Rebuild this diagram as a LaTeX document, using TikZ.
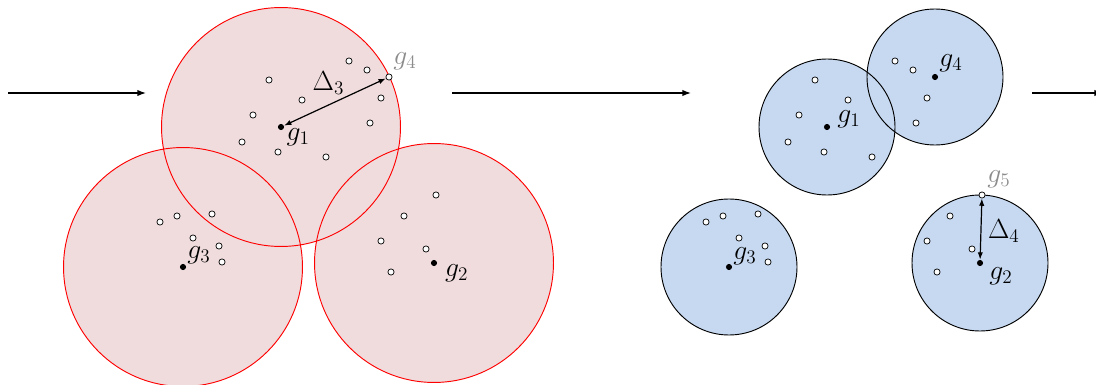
\documentclass[tikz,border=0pt]{standalone}
\usepackage{amsmath}
\usepackage{xcolor}
\usetikzlibrary{arrows.meta,calc,positioning}
\definecolor{ballred}{RGB}{240,220,221}
\definecolor{ballblue}{RGB}{198,217,241}
\newcommand{\samplepts}{349/61,367/70,269/80,302/100,381/98,253/115,370/123,242/142,278/152,326/157,160/222,177/216,212/214,193/238,219/246,222/262,404/216,381/241,426/249,391/272}

\begin{document}
\begin{tikzpicture}[x=0.75pt,y=-0.75pt,>=Latex,
  pt/.style={circle,draw,fill=white,inner sep=0pt,minimum size=4.6pt,line width=0.55pt},
  ctr/.style={circle,fill=black,inner sep=0pt,minimum size=4.6pt},
  lab/.style={inner sep=1pt,font=\huge},
  flow/.style={->,line width=1pt,>={Latex[length=6.5pt,width=4.8pt]}},
  dist/.style={<->,line width=0.9pt,>={Latex[length=5.5pt,width=4pt]}},
  redball/.style={draw=red,line width=0.7pt},
  blueball/.style={draw=black,line width=0.7pt}]
\useasboundingbox (0,0) rectangle (1096,385);
\coordinate (lc1) at (281,127);
\coordinate (lc2) at (434,263);
\coordinate (lc3) at (183,267);
\coordinate (rc1) at (827,127);
\coordinate (rc2) at (980,263);
\coordinate (rc3) at (729,267);
\coordinate (rc4) at (935,77);
\foreach \c in {lc1,lc2,lc3} \fill[ballred] (\c) circle[radius=89.6pt];
\foreach \c in {lc1,lc2,lc3} \draw[redball] (\c) circle[radius=89.6pt];
\foreach \c in {rc1,rc2,rc3,rc4} \fill[ballblue] (\c) circle[radius=51pt];
\foreach \c in {rc1,rc2,rc3,rc4} \draw[blueball] (\c) circle[radius=51pt];
\foreach \x/\y [count=\i] in \samplepts {
  \node[pt] (lp\i) at (\x,\y) {};
  \node[pt] (rp\i) at (\x+546,\y) {};
}
\node[ctr] (lg1) at (lc1) {};
\node[ctr] (lg2) at (lc2) {};
\node[ctr] (lg3) at (lc3) {};
\node[pt] (lg4) at (389,77) {};
\node[pt] (lg5) at (436,195) {};
\node[ctr] (rg1) at (rc1) {};
\node[ctr] (rg2) at (rc2) {};
\node[ctr] (rg3) at (rc3) {};
\node[ctr] (rg4) at (rc4) {};
\node[pt] (rg5) at (982,195) {};
\node[lab,anchor=north west] (lg1l) at ($(lg1)+(4,0)$) {$g_1$};
\node[lab,anchor=north west] (lg2l) at ($(lg2)+(9.5,0)$) {$g_2$};
\node[lab,anchor=south west] (lg3l) at ($(lg3)+(2.7,-1.7)$) {$g_3$};
\node[lab,anchor=south west,text=black!45] (lg4l) at ($(lg4)+(2.7,-5.7)$) {$g_4$};
\draw[dist] (lg1) -- node[lab,above=4.3pt,xshift=-4.9pt] (ld3) {$\Delta_3$} (lg4);
\node[lab,anchor=west] (rg1l) at ($(rg1)+(8.7,-8)$) {$g_1$};
\node[lab,anchor=north west] (rg2l) at ($(rg2)+(7.7,2.7)$) {$g_2$};
\node[lab,anchor=south west] (rg3l) at ($(rg3)+(2.7,-0.7)$) {$g_3$};
\node[lab,anchor=south west] (rg4l) at ($(rg4)+(2.7,-3.7)$) {$g_4$};
\node[lab,anchor=south west,text=black!45] (rg5l) at ($(rg5)+(3.7,-5.7)$) {$g_5$};
\draw[dist] (rg2) -- node[lab,right=3.9pt,yshift=-1.5pt] (rd4) {$\Delta_4$} (rg5);
\coordinate (in1) at (8,93);
\coordinate (out1) at (146,93);
\coordinate (in2) at (452,93);
\coordinate (out2) at (691,93);
\coordinate (in3) at (1032,93);
\coordinate (out3) at (1103,93);
\draw[flow] (in1) -- (out1);
\draw[flow] (in2) -- (out2);
\draw[flow] (in3) -- (out3);
\end{tikzpicture}
\end{document}
